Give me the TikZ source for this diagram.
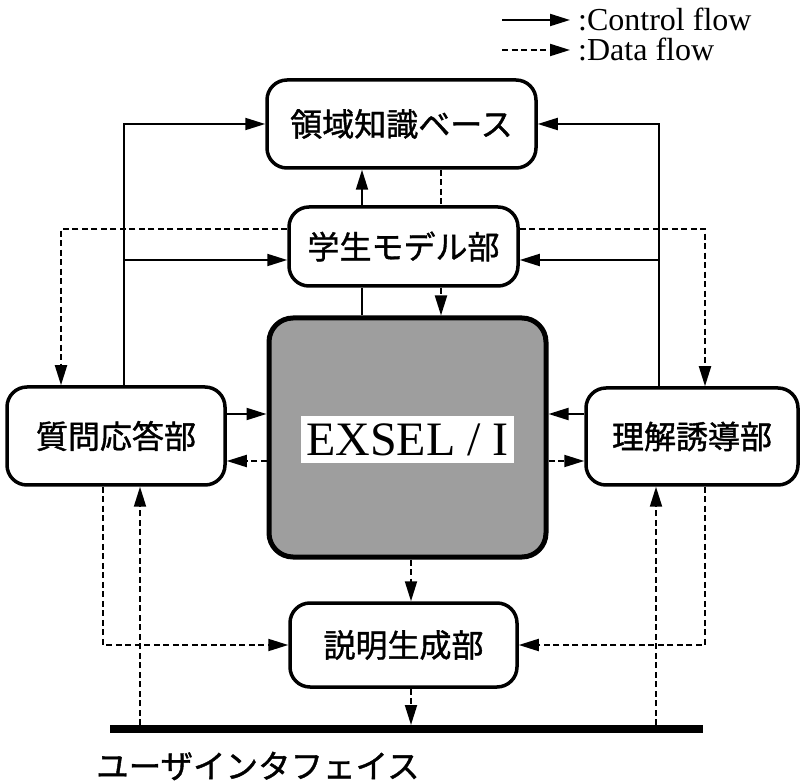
\documentclass[tikz,border=0pt]{standalone}
\usepackage{fontspec}
\setmainfont{Liberation Serif}
\newfontfamily\jp[FakeBold=1.2]{Noto Sans CJK JP}
\usetikzlibrary{arrows.meta}
\begin{document}
\begin{tikzpicture}[x=1pt,y=-1pt,
  box/.style={draw, line width=3.5pt, rounded corners=20pt, fill=white, inner sep=0pt,
              font=\jp\fontsize{32}{38}\selectfont},
  conn/.style={line width=2pt},
  ctrl/.style={conn, -{Triangle[length=20pt,width=12pt]}},
  data/.style={ctrl, dash pattern=on 6pt off 3.5pt},
  dataline/.style={conn, dash pattern=on 6pt off 3.5pt},
  lbl/.style={inner sep=0pt, font=\fontsize{32}{36}\selectfont}
]
\useasboundingbox (0,0) rectangle (801,783);

% guides
\coordinate (xL0) at (61,0);
\coordinate (xL1) at (124,0);
\coordinate (xLa) at (103,0);
\coordinate (xLb) at (140,0);
\coordinate (xC1) at (362,0);
\coordinate (xC2) at (441,0);
\coordinate (xE)  at (411,0);
\coordinate (xRa) at (656,0);
\coordinate (xR1) at (659,0);
\coordinate (xR0) at (705,0);
\coordinate (yG1) at (0,229);
\coordinate (yG2) at (0,260);
\coordinate (yS)  at (0,414);
\coordinate (yD)  at (0,461);

% boxes
\node[box, minimum width=269pt, minimum height=88pt] (ryoiki) at (401.5,124) {領域知識ベース};
\node[box, minimum width=229pt, minimum height=79pt] (gakusei) at (403.5,246.5) {学生モデル部};
\node[box, minimum width=218pt, minimum height=98pt] (shitsu) at (116,436) {質問応答部};
\node[box, minimum width=212pt, minimum height=97pt] (rikai) at (692,436.5) {理解誘導部};
\node[box, minimum width=227pt, minimum height=84pt] (setsumei) at (403.5,645) {説明生成部};
\node[draw, line width=5pt, rounded corners=24pt, fill=black!38, inner sep=0pt,
      minimum width=277pt, minimum height=239pt] (exsel) at (407.5,437.5) {};
\node[fill=white, inner xsep=5pt, inner ysep=7.5pt, text height=32pt, text depth=0pt,
      font=\fontsize{48}{52}\selectfont] (exsellbl) at (407.5,439.5) {EXSEL / I};

% user interface bar
\coordinate (uiL) at (110,729);
\coordinate (uiR) at (703,729);
\coordinate (uiT) at (0,725);
\draw[line width=8pt] (uiL) -- (uiR);
\node[anchor=west, inner sep=0pt, font=\jp\fontsize{32.5}{36}\selectfont] (uitext) at (96,766) {ユーザインタフェイス};

% control flows
\draw[ctrl] (shitsu.north -| xL1) |- (ryoiki.west);
\draw[ctrl] (shitsu.north -| xL1) |- (gakusei.west |- yG2);
\draw[ctrl] (rikai.north -| xR1) |- (ryoiki.east);
\draw[ctrl] (rikai.north -| xR1) |- (gakusei.east |- yG2);
\draw[conn] (exsel.north -| xC1) -- (gakusei.south -| xC1);
\draw[ctrl] (gakusei.north -| xC1) -- (ryoiki.south -| xC1);
\draw[ctrl] (shitsu.east |- yS) -- (exsel.west |- yS);
\draw[ctrl] (rikai.west |- yS) -- (exsel.east |- yS);

% data flows
\draw[data] (gakusei.west |- yG1) -| (shitsu.north -| xL0);
\draw[data] (gakusei.east |- yG1) -| (rikai.north -| xR0);
\draw[dataline] (ryoiki.south -| xC2) -- (gakusei.north -| xC2);
\draw[data] (gakusei.south -| xC2) -- (exsel.north -| xC2);
\draw[data] (exsel.west |- yD) -- (shitsu.east |- yD);
\draw[data] (exsel.east |- yD) -- (rikai.west |- yD);
\draw[data] (exsel.south -| xE) -- (setsumei.north -| xE);
\draw[data] (setsumei.south -| xE) -- (uiT -| xE);
\draw[data] (shitsu.south -| xLa) |- (setsumei.west);
\draw[data] (rikai.south -| xR0) |- (setsumei.east);
\draw[data] (uiT -| xLb) -- (shitsu.south -| xLb);
\draw[data] (uiT -| xRa) -- (rikai.south -| xRa);

% legend
\coordinate (lc1) at (502,20);
\coordinate (lc2) at (570,20);
\coordinate (ld1) at (502,50);
\coordinate (ld2) at (570,50);
\draw[ctrl] (lc1) -- (lc2);
\draw[data] (ld1) -- (ld2);
\node[lbl, anchor=base west] (lct) at (578,31) {:Control flow};
\node[lbl, anchor=base west] (ldt) at (578,61) {:Data flow};
\end{tikzpicture}
\end{document}
